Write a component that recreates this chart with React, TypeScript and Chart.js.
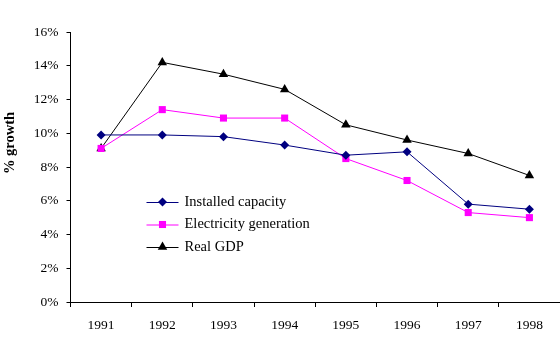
import React, { useEffect, useRef } from "react";
import { Chart, registerables } from "chart.js";

Chart.register(...registerables);

const years = ["1991", "1992", "1993", "1994", "1995", "1996", "1997", "1998"];
const installedCapacity = [9.9, 9.9, 9.8, 9.3, 8.7, 8.9, 5.8, 5.5];
const electricityGeneration = [9.1, 11.4, 10.9, 10.9, 8.5, 7.2, 5.3, 5.0];
const realGDP = [9.1, 14.2, 13.5, 12.6, 10.5, 9.6, 8.8, 7.5];
const yTicks = [0, 2, 4, 6, 8, 10, 12, 14, 16];
const seriesNames = ["Installed capacity", "Electricity generation", "Real GDP"];
const yTitle = "% growth";

const SERIF = "'Liberation Serif', 'Times New Roman', serif";

function drawMarker(ctx: CanvasRenderingContext2D, style: string, x: number, y: number, r: number, color: string) {
  ctx.save();
  ctx.fillStyle = color;
  ctx.beginPath();
  if (style === "rectRot") {
    ctx.moveTo(x, y - r);
    ctx.lineTo(x + r, y);
    ctx.lineTo(x, y + r);
    ctx.lineTo(x - r, y);
  } else if (style === "rect") {
    const s = r * Math.SQRT1_2;
    ctx.rect(x - s, y - s, 2 * s, 2 * s);
  } else {
    const w = (r * Math.sqrt(3)) / 2;
    ctx.moveTo(x, y - r);
    ctx.lineTo(x + w, y + r / 2);
    ctx.lineTo(x - w, y + r / 2);
  }
  ctx.closePath();
  ctx.fill();
  ctx.restore();
}

export default function App() {
  const ref = useRef<HTMLCanvasElement | null>(null);
  useEffect(() => {
    if (!ref.current) return;
    const colors = ["#000080", "#FF00FF", "#000000"];
    const styles = ["rectRot", "rect", "triangle"];
    const radii = [4.5, 5, 5.5];
    const overlay = {
      id: "overlay",
      afterDraw(chart: any) {
        const ctx = chart.ctx as CanvasRenderingContext2D;
        const area = chart.chartArea;
        ctx.save();
        ctx.translate(10, 143);
        ctx.rotate(-Math.PI / 2);
        ctx.font = `bold 14.5px ${SERIF}`;
        ctx.fillStyle = "#000";
        ctx.textAlign = "center";
        ctx.textBaseline = "middle";
        ctx.fillText(yTitle, 0, 0);
        ctx.restore();
        const lx = area.left + 76;
        const ly0 = 202;
        seriesNames.forEach((name, i) => {
          const y = ly0 + i * 22.5;
          ctx.save();
          ctx.strokeStyle = colors[i];
          ctx.lineWidth = 1;
          ctx.beginPath();
          ctx.moveTo(lx, y + 0.5);
          ctx.lineTo(lx + 32, y + 0.5);
          ctx.stroke();
          ctx.restore();
          drawMarker(ctx, styles[i], lx + 16, y, radii[i], colors[i]);
          ctx.save();
          ctx.font = `14.5px ${SERIF}`;
          ctx.fillStyle = "#000";
          ctx.textAlign = "left";
          ctx.textBaseline = "middle";
          ctx.fillText(name, lx + 38, y);
          ctx.restore();
        });
      },
    };
    const mk = (label: string, data: number[], i: number) => ({
      label,
      data,
      borderColor: colors[i],
      backgroundColor: colors[i],
      borderWidth: 1,
      pointStyle: styles[i] as any,
      pointRadius: radii[i],
      pointBorderWidth: 0,
      pointBackgroundColor: colors[i],
      tension: 0,
      clip: false as any,
    });
    const chart = new Chart(ref.current, {
      type: "line",
      data: {
        labels: years,
        datasets: [
          mk(seriesNames[0], installedCapacity, 0),
          mk(seriesNames[1], electricityGeneration, 1),
          mk(seriesNames[2], realGDP, 2),
        ],
      },
      options: {
        animation: false,
        responsive: false,
        devicePixelRatio: 1,
        layout: { autoPadding: false, padding: { top: 32, left: 0, right: -2, bottom: 0 } },
        plugins: { legend: { display: false }, tooltip: { enabled: false } },
        scales: {
          x: {
            offset: true,
            grid: { display: true, drawOnChartArea: false, offset: true, tickLength: 5, color: "#000", tickWidth: 1 },
            border: { display: true, color: "#000", width: 1 },
            ticks: { color: "#000", font: { family: SERIF, size: 13.5 }, padding: 10, maxRotation: 0, autoSkip: false },
            afterFit: (s: any) => {
              s.height = 56;
              s.paddingLeft = 0;
              s.paddingRight = 0;
            },
          },
          y: {
            min: 0,
            max: 16,
            afterBuildTicks: (s: any) => {
              s.ticks = yTicks.map((v) => ({ value: v }));
            },
            grid: { display: true, drawOnChartArea: false, tickLength: 4, color: "#000", tickWidth: 1 },
            border: { display: true, color: "#000", width: 1 },
            ticks: {
              color: "#000",
              font: { family: SERIF, size: 13.5 },
              padding: 8,
              callback: (v: any) => `${v}%`,
            },
            afterFit: (s: any) => {
              s.width = 70.5;
            },
          },
        },
      },
      plugins: [overlay],
    });
    return () => chart.destroy();
  }, []);
  return (
    <div style={{ position: "fixed", left: 0, top: 0, width: 560, height: 358, background: "#fff" }}>
      <canvas ref={ref} width={560} height={358} style={{ width: 560, height: 358 }} />
    </div>
  );
}
